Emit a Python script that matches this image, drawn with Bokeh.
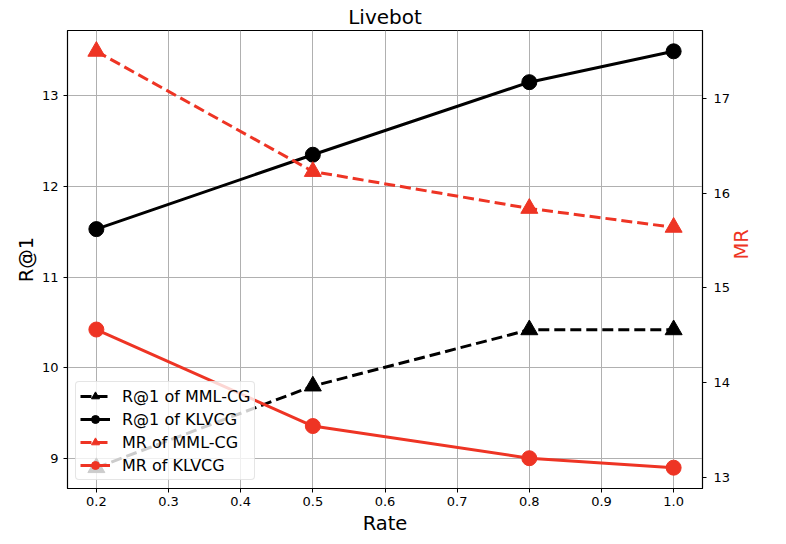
import math
from bokeh.plotting import figure
from bokeh.models import Range1d, LinearAxis, Legend, LegendItem, FixedTicker, PrintfTickFormatter
from bokeh.embed import file_html
from bokeh.resources import INLINE

rate = [0.2, 0.5, 0.8, 1.0]
r1_mmlcg = [8.90, 9.80, 10.42, 10.42]
r1_klvcg = [11.53, 12.35, 13.15, 13.49]
mr_mmlcg = [17.50, 16.23, 15.84, 15.64]
mr_klvcg = [14.56, 13.54, 13.20, 13.10]

x_ticks = [0.2, 0.3, 0.4, 0.5, 0.6, 0.7, 0.8, 0.9, 1.0]
left_ticks = [9, 10, 11, 12, 13]
right_ticks = [13, 14, 15, 16, 17]

labels = ["R@1 of MML-CG", "R@1 of KLVCG", "MR of MML-CG", "MR of KLVCG"]

RED = "#ee3424"
FONT = "DejaVu Sans"


def padded(vals, m=0.05):
    lo, hi = min(vals), max(vals)
    d = (hi - lo) * m
    return lo - d, hi + d


xlo, xhi = padded(rate)
llo, lhi = padded(r1_mmlcg + r1_klvcg)
rlo, rhi = padded(mr_mmlcg + mr_klvcg)

p = figure(frame_width=635, frame_height=458, output_backend="svg", toolbar_location=None,
           x_range=Range1d(xlo, xhi), y_range=Range1d(llo, lhi),
           min_border_left=67, min_border_right=68, min_border_top=24,
           min_border_bottom=46, title="Livebot")
p.extra_y_ranges = {"mr": Range1d(rlo, rhi)}

p.title.align = "center"
p.title.text_font = FONT
p.title.text_font_size = "20px"
p.title.text_font_style = "normal"
p.title.text_color = "black"
p.title.standoff = 4

p.outline_line_color = "black"
p.outline_line_width = 1.2
p.background_fill_color = "white"
p.border_fill_color = "white"


def style_axis(ax):
    ax.major_label_text_font = FONT
    ax.major_label_text_font_size = "13px"
    ax.major_label_text_color = "black"
    ax.major_label_text_line_height = 1.0
    ax.axis_label_text_font = FONT
    ax.axis_label_text_font_size = "19.5px"
    ax.axis_label_text_font_style = "normal"
    ax.axis_label_text_color = "black"
    ax.axis_label_text_line_height = 1.0
    ax.axis_line_color = "black"
    ax.major_tick_line_color = "black"
    ax.major_tick_in = 0
    ax.major_tick_out = 4
    ax.minor_tick_line_color = None


style_axis(p.xaxis[0])
style_axis(p.yaxis[0])

p.xaxis.ticker = FixedTicker(ticks=x_ticks)
p.xaxis.formatter = PrintfTickFormatter(format="%.1f")
p.yaxis.ticker = FixedTicker(ticks=left_ticks)
p.xaxis.axis_label = "Rate"
p.yaxis.axis_label = "R@1"
p.xaxis.major_label_standoff = 4
p.xaxis.axis_label_standoff = 3
p.yaxis.axis_label_standoff = 1

rax = LinearAxis(y_range_name="mr", ticker=FixedTicker(ticks=right_ticks), axis_label="MR")
style_axis(rax)
rax.axis_label_text_color = RED
rax.axis_label_orientation = math.pi / 2
rax.major_label_standoff = 7
rax.axis_label_standoff = 8
p.add_layout(rax, "right")

p.xgrid.grid_line_color = "#b0b0b0"
p.ygrid.grid_line_color = "#b0b0b0"
p.xgrid.grid_line_width = 1
p.ygrid.grid_line_width = 1

LW = 3
DASH = "11 5"

l1 = p.line(rate, r1_mmlcg, line_color="black", line_width=LW, line_dash=DASH)
m1 = p.scatter(rate, r1_mmlcg, marker="triangle", size=17, color="black")
l2 = p.line(rate, r1_klvcg, line_color="black", line_width=LW)
m2 = p.scatter(rate, r1_klvcg, marker="circle", size=15, color="black")
l3 = p.line(rate, mr_mmlcg, line_color=RED, line_width=LW, line_dash=DASH, y_range_name="mr")
m3 = p.scatter(rate, mr_mmlcg, marker="triangle", size=17, color=RED, y_range_name="mr")
l4 = p.line(rate, mr_klvcg, line_color=RED, line_width=LW, y_range_name="mr")
m4 = p.scatter(rate, mr_klvcg, marker="circle", size=15, color=RED, y_range_name="mr")

legend = Legend(items=[
    LegendItem(label=labels[0], renderers=[l1, m1]),
    LegendItem(label=labels[1], renderers=[l2, m2]),
    LegendItem(label=labels[2], renderers=[l3, m3]),
    LegendItem(label=labels[3], renderers=[l4, m4]),
], location="bottom_left")
legend.margin = 8
legend.padding = 4
legend.spacing = 3
legend.label_height = 20
legend.glyph_height = 20
legend.glyph_width = 30
legend.label_standoff = 12
legend.label_text_font = FONT
legend.label_text_font_size = "16px"
legend.label_text_color = "black"
legend.label_text_line_height = 1.0
legend.border_line_color = "#cccccc"
legend.border_line_width = 1
legend.background_fill_alpha = 0.8
legend.border_radius = 4
p.add_layout(legend, "center")

open("out.html", "w").write(file_html(p, INLINE))
